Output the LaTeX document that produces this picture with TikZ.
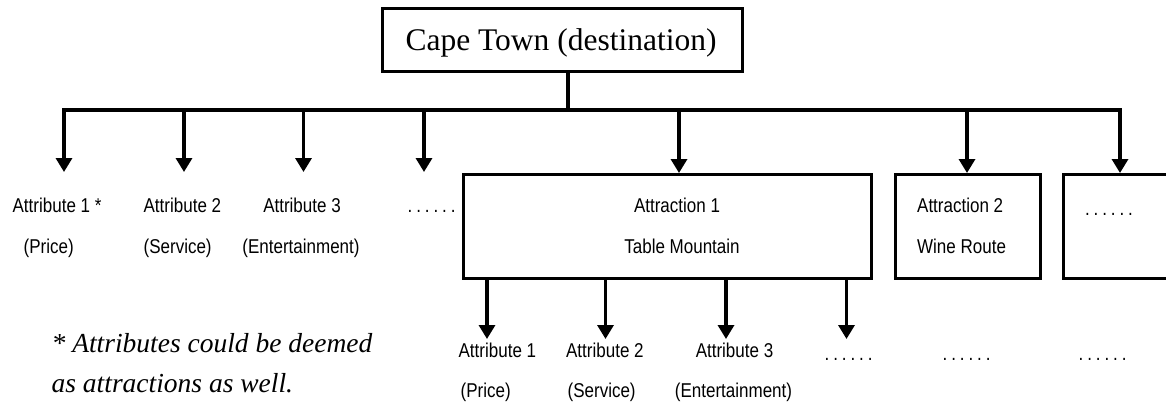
\documentclass[tikz,border=0pt]{standalone}
\usepackage{fontspec}
\setmainfont{Liberation Serif}
\newfontfamily\narrowsans[FakeStretch=0.85]{Liberation Sans}
\usetikzlibrary{arrows.meta}
% a spaced run of six dots
\newcommand\dotrun{.\kern3.9pt.\kern3.9pt.\kern3.9pt.\kern3.9pt.\kern3.9pt.}
\begin{document}
\begin{tikzpicture}[x=1pt,y=-1pt,
  line width=3.3pt,
  box/.style={draw,rectangle,inner sep=0pt,anchor=north west},
  arr/.style={-{Triangle[width=16pt,length=14pt]}},
  lbl/.style={inner sep=0pt,font=\narrowsans\fontsize{20}{20}\selectfont},
  note/.style={inner sep=0pt,anchor=base west,font=\itshape\fontsize{27.5}{27.5}\selectfont}]
\useasboundingbox (0,0) rectangle (1166,405);

% destination box
\node[box,minimum width=360pt,minimum height=63pt] (title) at (381,7) {};
\node[inner sep=0pt,anchor=base,font=\fontsize{31.5}{31.5}\selectfont] (titletext) at (561,50) {Cape Town (destination)};

% attraction boxes
\node[box,minimum width=408pt,minimum height=104pt] (box1) at (462,173) {};
\node[box,minimum width=145pt,minimum height=104pt] (box2) at (894,173) {};
\node[box,minimum width=114pt,minimum height=104pt] (box3) at (1062,173) {};

% bus junctions
\coordinate (jt) at (568,110);
\coordinate (j1) at (64,110);
\coordinate (j2) at (184,110);
\coordinate (j3) at (303.5,110);
\coordinate (j4) at (424,110);
\coordinate (j5) at (679,110);
\coordinate (j6) at (967,110);
\coordinate (j7) at (1120,110);
% arrow ends above the free-standing attributes
\coordinate (t1) at (64,172);
\coordinate (t2) at (184,172);
\coordinate (t3) at (303.5,172);
\coordinate (t4) at (424,172);
% arrow ends below attraction 1
\coordinate (b1) at (487,339);
\coordinate (b2) at (605.5,339);
\coordinate (b3) at (726,339);
\coordinate (b4) at (846.5,339);

% connectors
\draw (title.south -| jt) -- (jt);
\draw[line cap=rect] (j1) -- (j7);
\draw[arr] (j1) -- (t1);
\draw[arr] (j2) -- (t2);
\draw[arr] (j3) -- (t3);
\draw[arr] (j4) -- (t4);
\draw[arr] (j5) -- (j5 |- box1.north);
\draw[arr] (j6) -- (j6 |- box2.north);
\draw[arr] (j7) -- (j7 |- box3.north);
\draw[arr] (box1.south -| b1) -- (b1);
\draw[arr] (box1.south -| b2) -- (b2);
\draw[arr] (box1.south -| b3) -- (b3);
\draw[arr] (box1.south -| b4) -- (b4);

% destination-level attributes
\node[lbl,anchor=base west] (a1) at (11,212) {Attribute 1 *};
\node[lbl,anchor=base west] (a1b) at (22,253) {(Price)};
\node[lbl,anchor=base west] (a2) at (142,212) {Attribute 2};
\node[lbl,anchor=base west] (a2b) at (142,253) {(Service)};
\node[lbl,anchor=base] (a3) at (302,212) {Attribute 3};
\node[lbl,anchor=base] (a3b) at (301,253) {(Entertainment)};
\node[lbl,anchor=base west] (a4) at (406,212) {\dotrun};

% attraction labels
\node[lbl,anchor=base] (r1) at (677,212) {Attraction 1};
\node[lbl,anchor=base] (r1b) at (682,253) {Table Mountain};
\node[lbl,anchor=base west] (r2) at (915.5,212) {Attraction 2};
\node[lbl,anchor=base west] (r2b) at (915.5,253) {Wine Route};
\node[lbl,anchor=base] (r3) at (1109,215) {\dotrun};

% attributes of attraction 1
\node[lbl,anchor=base west] (c1) at (457,357) {Attribute 1};
\node[lbl,anchor=base west] (c1b) at (459,397) {(Price)};
\node[lbl,anchor=base west] (c2) at (564.5,357) {Attribute 2};
\node[lbl,anchor=base west] (c2b) at (566,397) {(Service)};
\node[lbl,anchor=base] (c3) at (734.5,357) {Attribute 3};
\node[lbl,anchor=base] (c3b) at (733.5,397) {(Entertainment)};
\node[lbl,anchor=base west] (c4) at (823,360) {\dotrun};
\node[lbl,anchor=base west] (d2) at (941,360) {\dotrun};
\node[lbl,anchor=base west] (d3) at (1077,360) {\dotrun};

% footnote
\node[note] (n1) at (50,352) {* Attributes could be deemed};
\node[note] (n2) at (50,392) {as attractions as well.};
\end{tikzpicture}
\end{document}
